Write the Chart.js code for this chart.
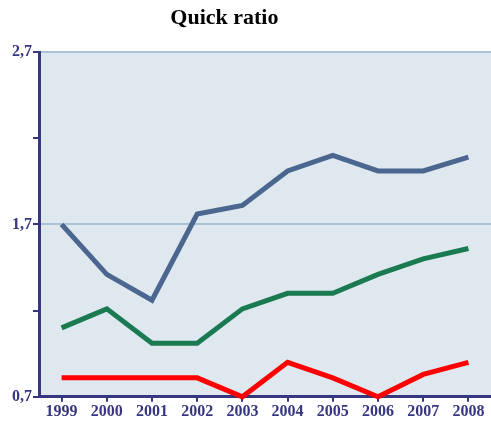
<!DOCTYPE html>
<html>
<head>
<meta charset="utf-8">
<script src="https://cdn.jsdelivr.net/npm/chart.js@4.4.1/dist/chart.umd.min.js"></script>
<style>
  html, body { margin: 0; padding: 0; background: #ffffff; }
  #wrap { width: 491px; height: 421px; position: relative; }
</style>
</head>
<body>
<div id="wrap"><canvas id="chart"></canvas></div>
<script>
const years = ["1999", "2000", "2001", "2002", "2003", "2004", "2005", "2006", "2007", "2008"];
const blueSeries = [1.70, 1.41, 1.26, 1.76, 1.81, 2.01, 2.10, 2.01, 2.01, 2.09];
const greenSeries = [1.10, 1.21, 1.01, 1.01, 1.21, 1.30, 1.30, 1.41, 1.50, 1.56];
const redSeries = [0.81, 0.81, 0.81, 0.81, 0.70, 0.90, 0.81, 0.70, 0.83, 0.90];
const yTickLabels = [0.7, 1.7, 2.7];

const navy = "#363681";
const serif = "'Liberation Serif', 'Times New Roman', serif";

// Hintergrund der Zeichenfläche + Titel
const plotDeco = {
   id: "plotDeco",
   beforeDraw(chart) {
      const { ctx, chartArea: a } = chart;
      ctx.save();
      ctx.fillStyle = "#dfe7ef";
      ctx.fillRect(a.left, a.top, a.right - a.left, a.bottom - a.top);
      ctx.restore();
   },
   afterDraw(chart) {
      const { ctx } = chart;
      ctx.save();
      ctx.fillStyle = "#000000";
      ctx.font = "bold 22px " + serif;
      ctx.textAlign = "center";
      ctx.textBaseline = "middle";
      ctx.fillText("Quick ratio", chart.width * 0.457, 18);
      ctx.restore();
   },
};

new Chart(document.getElementById("chart"), {
   type: "line",
   data: {
      labels: years,
      datasets: [
         { data: blueSeries, borderColor: "#4b6790" },
         { data: greenSeries, borderColor: "#1a7a52" },
         { data: redSeries, borderColor: "#ff0000" },
      ].map((d) => ({
         ...d,
         borderWidth: 5,
         pointRadius: 0,
         tension: 0,
         fill: false,
         borderJoinStyle: "miter",
         clip: 6,
      })),
   },
   options: {
      responsive: true,
      maintainAspectRatio: false,
      animation: false,
      layout: { padding: { top: 52, right: 0, left: 11, bottom: 0 } },
      plugins: {
         legend: { display: false },
         title: { display: false },
         tooltip: { enabled: false },
      },
      scales: {
         x: {
            offset: true,
            grid: {
               offset: false,
               drawOnChartArea: false,
               color: navy,
               tickColor: navy,
               tickLength: 5,
               lineWidth: 2,
            },
            border: { display: true, color: navy, width: 3 },
            ticks: {
               color: navy,
               padding: 0,
               maxRotation: 0,
               autoSkip: false,
               font: { family: serif, size: 16, weight: "bold" },
            },
         },
         y: {
            min: 0.7,
            max: 2.7,
            ticks: {
               stepSize: 0.5,
               color: navy,
               padding: 1,
               font: { family: serif, size: 16, weight: "bold" },
               callback: function (value) {
                  const v = Math.round(value * 10) / 10;
                  return yTickLabels.includes(v) ? v.toFixed(1).replace(".", ",") : "";
               },
            },
            grid: {
               color: function (c) {
                  const v = Math.round(c.tick.value * 10) / 10;
                  return yTickLabels.includes(v) && v !== 0.7 ? "#a9c3d8" : "rgba(0,0,0,0)";
               },
               tickColor: navy,
               tickLength: 6,
               lineWidth: 2,
            },
            border: { display: true, color: navy, width: 3 },
         },
      },
   },
   plugins: [plotDeco],
});
</script>
</body>
</html>
